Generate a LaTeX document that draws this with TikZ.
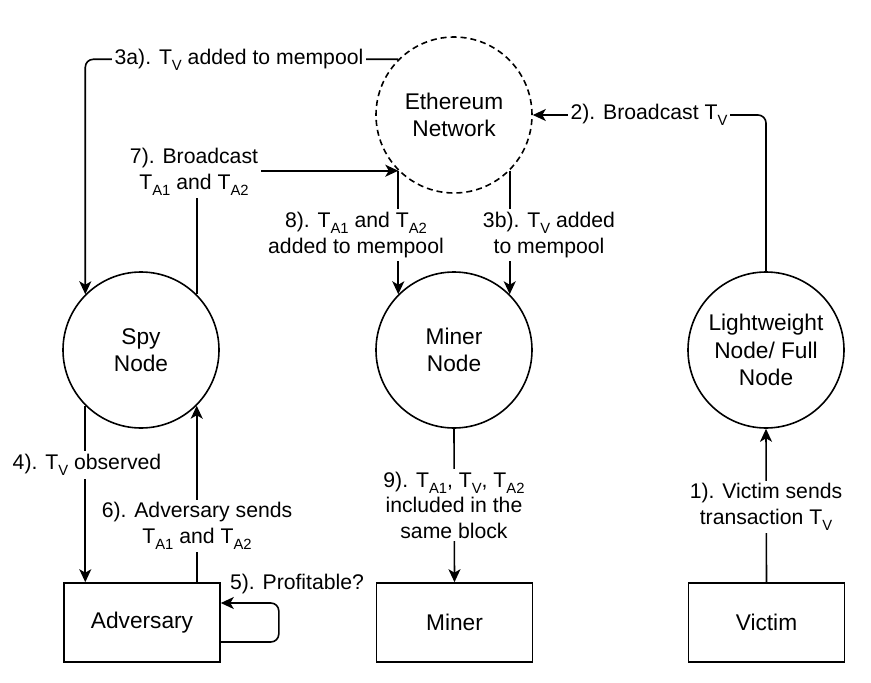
\documentclass[tikz,border=0pt]{standalone}
\usepackage{fontspec}
\setmainfont{Liberation Sans}
\usetikzlibrary{arrows.meta}
\newcommand\nodefont{\fontsize{22.7}{27.5}\selectfont}
\newcommand\labfont{\fontsize{21.2}{25.5}\selectfont}
\newcommand\tsub[1]{\raisebox{-6pt}{\fontsize{14.8}{15}\selectfont #1}}
\begin{document}
\begin{tikzpicture}[x=1pt,y=-1pt,
  circ/.style={circle,draw,line width=1.6pt,minimum size=156pt,inner sep=0pt,align=center,font=\nodefont},
  dcirc/.style={circ,dash pattern=on 6pt off 4pt},
  box/.style={rectangle,draw,line width=1.6pt,minimum width=156pt,minimum height=79pt,inner sep=0pt,font=\nodefont},
  lab/.style={fill=white,inner sep=3pt,align=center,font=\labfont},
  arr/.style={line width=1.6pt,-{Stealth[length=13pt,width=12pt,inset=3.5pt]}}]
\useasboundingbox (0,0) rectangle (871,683);
\node[dcirc] (eth) at (454,115) {Ethereum\\Network};
\node[circ] (spy) at (141,350) {Spy\\Node};
\node[circ] (miner) at (454,350) {Miner\\Node};
\node[circ] (light) at (766,350) {Lightweight\\Node/ Full\\Node};
\node[box] (adv) at (142,622.5) {Adversary};
\node[box] (minerbox) at (454.5,622.5) {Miner};
\node[box] (victim) at (766.5,622.5) {Victim};
% edges
\draw[arr,rounded corners=8pt] (eth.135) -| (spy.135);
\draw[arr] (spy.45) |- (eth.225);
\draw[arr] (eth.225) -- (miner.135);
\draw[arr] (eth.315) -- (miner.45);
\draw[arr,rounded corners=8pt] (light.north) |- (eth.east);
\draw[arr] (spy.225) -- (spy.225 |- adv.north);
\draw[arr] (spy.315 |- adv.north) -- (spy.315);
\draw[arr,rounded corners=8pt] ([yshift=-19.5pt]adv.east) -- ++(58,0) |- ([yshift=19.5pt]adv.east);
\draw[arr] (miner.south) -- (minerbox.north);
\draw[arr] (victim.north) -- (light.south);
% labels
\node[lab] (l3a) at (239,60) {3a). T\tsub{V} added to mempool};
\node[lab] (l7) at (194,172) {7). Broadcast\\T\tsub{A1} and T\tsub{A2}};
\node[lab] (l8) at (356,235) {8). T\tsub{A1} and T\tsub{A2}\\added to mempool};
\node[lab] (l3b) at (549,235) {3b). T\tsub{V} added\\to mempool};
\node[lab] (l2) at (649,115) {2). Broadcast T\tsub{V}};
\node[lab] (l4) at (87,465) {4). T\tsub{V} observed};
\node[lab] (l6) at (197,526) {6). Adversary sends\\T\tsub{A1} and T\tsub{A2}};
\node[lab,fill=none] (l5) at (297,584) {5). Profitable?};
\node[lab] (l9) at (454,505) {9). T\tsub{A1}, T\tsub{V}, T\tsub{A2}\\included in the\\same block};
\node[lab] (l1) at (766,507) {1). Victim sends\\transaction T\tsub{V}};
\end{tikzpicture}
\end{document}
